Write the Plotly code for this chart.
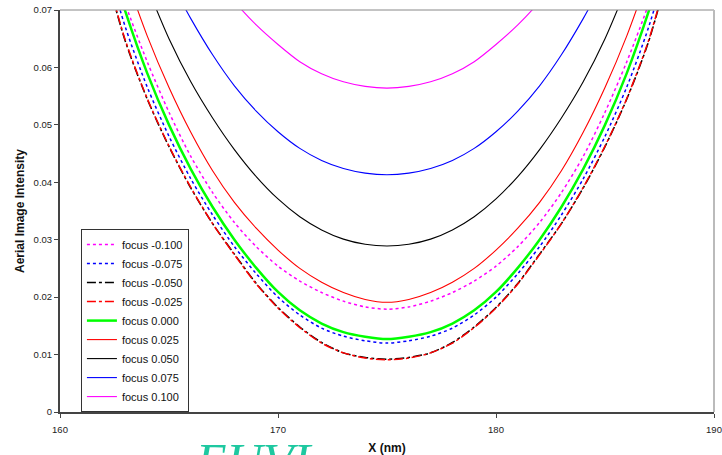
import plotly.graph_objects as go

x_nm = [162, 163, 164, 165, 166, 167, 168, 169, 170, 171, 172, 173, 174, 175,
        176, 177, 178, 179, 180, 181, 182, 183, 184, 185, 186, 187, 188]

focus_m0100 = [0.0825, 0.0710, 0.0610, 0.0522, 0.0445, 0.0382, 0.0330, 0.0288, 0.0254, 0.0228, 0.0208, 0.0193, 0.0183, 0.0179,
               0.0183, 0.0193, 0.0208, 0.0228, 0.0254, 0.0288, 0.0330, 0.0382, 0.0445, 0.0522, 0.0610, 0.0710, 0.0825]
focus_m0075 = [0.0800, 0.0670, 0.0566, 0.0480, 0.0406, 0.0343, 0.0288, 0.0241, 0.0200, 0.0169, 0.0146, 0.0132, 0.0124, 0.0120,
               0.0124, 0.0132, 0.0146, 0.0169, 0.0200, 0.0241, 0.0288, 0.0343, 0.0406, 0.0480, 0.0566, 0.0670, 0.0800]
focus_m0050 = [0.0780, 0.0645, 0.0545, 0.0462, 0.0390, 0.0328, 0.0275, 0.0224, 0.0182, 0.0148, 0.0121, 0.0103, 0.0095, 0.0092,
               0.0095, 0.0103, 0.0121, 0.0148, 0.0182, 0.0224, 0.0275, 0.0328, 0.0390, 0.0462, 0.0545, 0.0645, 0.0780]
focus_m0025 = [0.0782, 0.0647, 0.0546, 0.0463, 0.0391, 0.0328, 0.0274, 0.0223, 0.0181, 0.0147, 0.0120, 0.0103, 0.0094, 0.0091,
               0.0094, 0.0103, 0.0120, 0.0147, 0.0181, 0.0223, 0.0274, 0.0328, 0.0391, 0.0463, 0.0546, 0.0647, 0.0782]
focus_p0000 = [0.0820, 0.0697, 0.0590, 0.0500, 0.0423, 0.0357, 0.0300, 0.0251, 0.0209, 0.0177, 0.0154, 0.0139, 0.0131, 0.0127,
               0.0131, 0.0139, 0.0154, 0.0177, 0.0209, 0.0251, 0.0300, 0.0357, 0.0423, 0.0500, 0.0590, 0.0697, 0.0820]
focus_p0025 = [None, 0.0760, 0.0655, 0.0565, 0.0487, 0.0420, 0.0365, 0.0320, 0.0282, 0.0250, 0.0226, 0.0208, 0.0196, 0.0191,
               0.0196, 0.0208, 0.0226, 0.0250, 0.0282, 0.0320, 0.0365, 0.0420, 0.0487, 0.0565, 0.0655, 0.0760, None]
focus_p0050 = [None, None, 0.0740, 0.0650, 0.0575, 0.0512, 0.0457, 0.0410, 0.0371, 0.0340, 0.0317, 0.0301, 0.0292, 0.0289,
               0.0292, 0.0301, 0.0317, 0.0340, 0.0371, 0.0410, 0.0457, 0.0512, 0.0575, 0.0650, 0.0740, None, None]
focus_p0075 = [None, None, None, 0.0755, 0.0685, 0.0622, 0.0568, 0.0524, 0.0488, 0.0459, 0.0438, 0.0424, 0.0416, 0.0413,
               0.0416, 0.0424, 0.0438, 0.0459, 0.0488, 0.0524, 0.0568, 0.0622, 0.0685, 0.0755, None, None, None]
focus_p0100 = [None, None, None, None, None, 0.0765, 0.0715, 0.0674, 0.0640, 0.0610, 0.0589, 0.0575, 0.0567, 0.0564,
               0.0567, 0.0575, 0.0589, 0.0610, 0.0640, 0.0674, 0.0715, 0.0765, None, None, None, None, None]

names = ["focus -0.100", "focus -0.075", "focus -0.050", "focus -0.025", "focus 0.000",
         "focus 0.025", "focus 0.050", "focus 0.075", "focus 0.100"]
series = [focus_m0100, focus_m0075, focus_m0050, focus_m0025, focus_p0000,
          focus_p0025, focus_p0050, focus_p0075, focus_p0100]
colors = ["#FF00FF", "#0000FF", "#000000", "#FF0000", "#00FF00",
          "#FF0000", "#000000", "#0000FF", "#FF00FF"]
dashes = ["dot", "dot", "dashdot", "dashdot", "solid", "solid", "solid", "solid", "solid"]
widths = [1.5, 1.5, 1.5, 1.5, 2.5, 1.1, 1.1, 1.1, 1.1]

fig = go.Figure()
for nm, ys, c, d, w in zip(names, series, colors, dashes, widths):
    fig.add_trace(go.Scatter(x=x_nm, y=ys, mode="lines", name=nm,
                             line=dict(color=c, dash=d, width=w, shape="spline", smoothing=0.8)))

fig.update_layout(
    width=722, height=455,
    margin=dict(l=60, r=8, t=10, b=43, autoexpand=False),
    paper_bgcolor="white", plot_bgcolor="white",
    font=dict(family="Liberation Sans, Arial, sans-serif", size=9.5, color="#222222"),
    showlegend=True,
    legend=dict(x=0.032, y=0.455, xanchor="left", yanchor="top",
                bgcolor="white", bordercolor="#333333", borderwidth=1,
                font=dict(size=11, color="#111111"), tracegroupgap=0,
                itemwidth=30),
    xaxis=dict(range=[160, 190], dtick=10, tick0=160, showgrid=False, zeroline=False,
               automargin=False, showline=True, linecolor="#444444", linewidth=2,
               ticks="outside", ticklen=4, tickcolor="#444444", ticklabelstandoff=4,
               title=dict(text="<b>X (nm)</b>", font=dict(size=12, color="#111111"), standoff=10)),
    yaxis=dict(range=[0, 0.07], dtick=0.01, showgrid=False, zeroline=False,
               automargin=False, showline=True, linecolor="#444444", linewidth=2,
               ticks="outside", ticklen=4, tickcolor="#444444",
               title=dict(text="<b>Aerial Image Intensity</b>", font=dict(size=12, color="#111111"), standoff=6)),
    shapes=[
        dict(type="line", xref="paper", yref="paper", x0=0, x1=1, y0=1, y1=1,
             line=dict(color="#888888", width=1)),
        dict(type="line", xref="paper", yref="paper", x0=1, x1=1, y0=0, y1=1,
             line=dict(color="#bbbbbb", width=2)),
    ],
    annotations=[
        dict(text="<i>EUVL</i>", xref="paper", yref="paper", x=0.303, y=-0.048,
             xanchor="center", yanchor="top", showarrow=False,
             font=dict(family="Liberation Serif, Times New Roman, serif", size=50, color="#1ec8a0")),
    ],
)

fig.write_html("out.html", config={"displayModeBar": False},
               post_script="document.body.style.margin='0';document.body.style.overflow='hidden';")
